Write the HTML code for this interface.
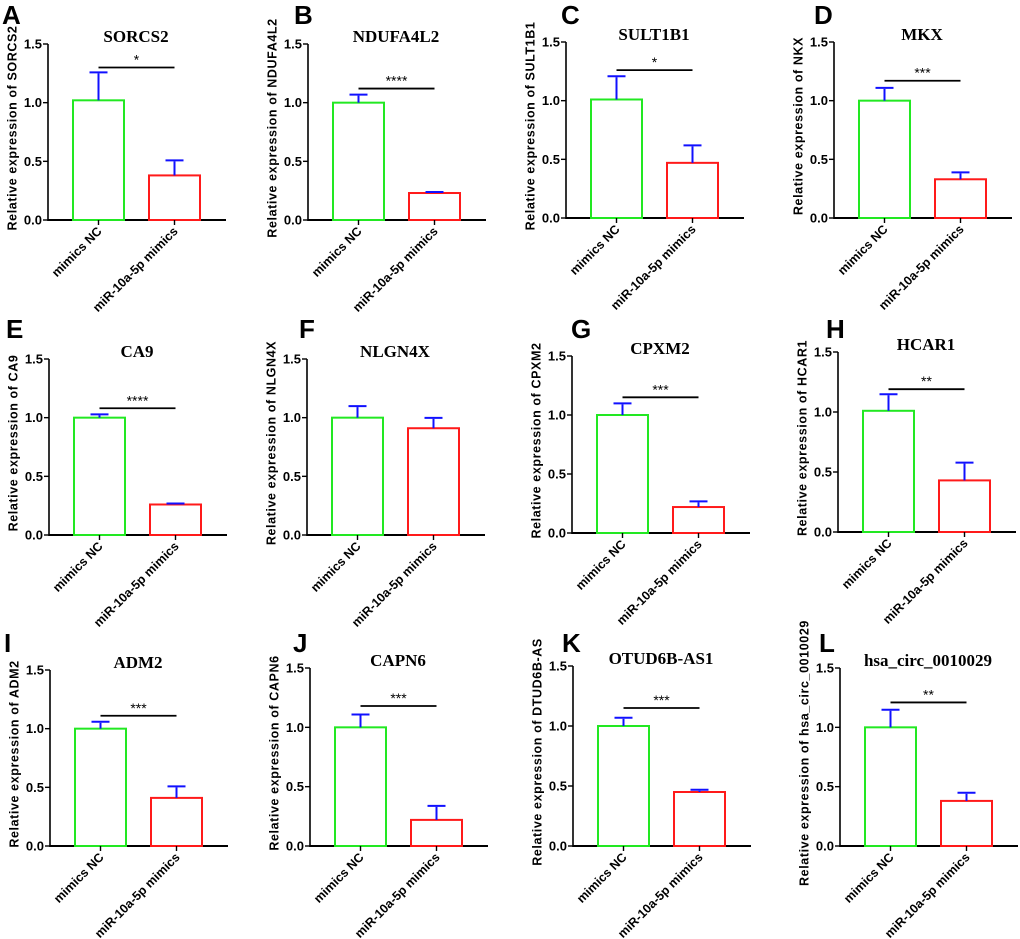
<!DOCTYPE html>
<html><head><meta charset="utf-8">
<style>
html,body{margin:0;padding:0;background:#fff;}
svg{display:block;}
.tk{font-family:"Liberation Sans",Arial,sans-serif;font-weight:bold;font-size:13px;fill:#000;}
.xk{font-family:"Liberation Sans",Arial,sans-serif;font-weight:bold;font-size:12.5px;fill:#000;}
.yt{font-family:"Liberation Sans",Arial,sans-serif;font-weight:bold;font-size:12.5px;letter-spacing:0.6px;fill:#000;}
.tt{font-family:"Liberation Serif","Times New Roman",serif;font-weight:bold;font-size:17px;fill:#000;}
.lt{font-family:"Liberation Sans",Arial,sans-serif;font-weight:bold;font-size:26px;fill:#000;}
.st{font-family:"Liberation Sans",Arial,sans-serif;font-size:14px;fill:#000;}
</style></head>
<body>
<svg id="fig" width="1020" height="939" viewBox="0 0 1020 939" xmlns="http://www.w3.org/2000/svg"></svg>
<script>
const letters = ["A","B","C","D","E","F","G","H","I","J","K","L"];
const titles = ["SORCS2","NDUFA4L2","SULT1B1","MKX","CA9","NLGN4X","CPXM2","HCAR1","ADM2","CAPN6","OTUD6B-AS1","hsa_circ_0010029"];
const yTitles = ["SORCS2","NDUFA4L2","SULT1B1","NKX","CA9","NLGN4X","CPXM2","HCAR1","ADM2","CAPN6","DTUD6B-AS","hsa_circ_0010029"];
const categories = ["mimics NC","miR-10a-5p mimics"];
const ncMeans = [1.02,1.0,1.01,1.0,1.0,1.0,1.0,1.01,1.0,1.0,1.0,1.0];
const ncErrTop = [1.25,1.06,1.2,1.1,1.02,1.09,1.09,1.14,1.05,1.1,1.06,1.14];
const miMeans = [0.38,0.23,0.47,0.33,0.26,0.91,0.22,0.43,0.41,0.22,0.45,0.38];
const miErrTop = [0.5,0.23,0.61,0.38,0.26,0.99,0.26,0.57,0.5,0.33,0.46,0.44];
const sigLevel = [1.3,1.12,1.26,1.17,1.08,null,1.15,1.19,1.11,1.18,1.15,1.21];
const sigText = ["*","****","*","***","****","","***","**","***","***","***","**"];
const yTicks = [0,0.5,1.0,1.5];
const yTickLabels = ["0.0","0.5","1.0","1.5"];

// layout (pixel geometry)
const axX = [48,308,566,834,49,307,572,838,50,310,573,840];
const axTop = [44,44,42,42,359,359,356,352,670,668,666,668];
const axBot = [220,220,218,218,535,535,533,532,846,846,846,846];
const letterX = [2,294,561,814,6,299,571,826,4,293,562,819];
const letterY = [24,24,24,24,338,338,338,338,652,652,652,652];

const NS="http://www.w3.org/2000/svg";
const svg=document.getElementById('fig');
function mk(tag,attrs,parent){const e=document.createElementNS(NS,tag);for(const k in attrs)e.setAttribute(k,attrs[k]);(parent||svg).appendChild(e);return e;}

for(let i=0;i<12;i++){
  const ax=axX[i], top=axTop[i], bot=axBot[i];
  const y=v=>bot-(v/1.5)*(bot-top);
  const g=mk('g',{});
  
  

  const L=mk('text',{x:letterX[i],y:letterY[i],class:'lt'},g); L.textContent=letters[i];
  
  

  const T=mk('text',{x:ax+88,y:top-2,class:'tt','text-anchor':'middle'},g); T.textContent=titles[i];
  
  

  const ym=(top+bot)/2-4;
  const YT=mk('text',{x:ax-35,y:ym,class:'yt','text-anchor':'middle',transform:`rotate(-90 ${ax-35} ${ym})`,'dominant-baseline':'middle'},g);
  YT.textContent='Relative expression of '+yTitles[i];
  
  

  const ya=mk('line',{x1:ax,y1:top,x2:ax,y2:bot+1,stroke:'#000','stroke-width':1.6},g);
  
  
  yTicks.forEach((t,k)=>{
    mk('line',{x1:ax-5,y1:y(t),x2:ax,y2:y(t),stroke:'#000','stroke-width':1.4},g);
    const tl=mk('text',{x:ax-6,y:y(t)+4.5,class:'tk','text-anchor':'end'},g); tl.textContent=yTickLabels[k];
    
    
  });
  const xa=mk('line',{x1:ax,y1:bot,x2:ax+178,y2:bot,stroke:'#000','stroke-width':2},g);
  
  

  const means=[ncMeans[i],miMeans[i]], errs=[ncErrTop[i],miErrTop[i]];
  const colors=['#22e822','#ff1a1a'];
  const centers=[];
  for(let b=0;b<2;b++){
    const x0=ax+25+b*76, w=51, cx=x0+w/2; centers.push(cx);
    const r=mk('rect',{x:x0,y:y(means[b]),width:w,height:bot-y(means[b]),fill:'none',stroke:colors[b],'stroke-width':2},g);
    
    
    const e1=mk('line',{x1:cx,y1:y(means[b]),x2:cx,y2:y(errs[b]),stroke:'#1010ff','stroke-width':2},g);
    
    
    const e2=mk('line',{x1:cx-9,y1:y(errs[b])-1,x2:cx+9,y2:y(errs[b])-1,stroke:'#1010ff','stroke-width':2},g);
    
    
    mk('line',{x1:cx,y1:bot,x2:cx,y2:bot+5,stroke:'#000','stroke-width':1.4},g);
    const xl=mk('text',{x:cx+4,y:bot+12,class:'xk','text-anchor':'end',transform:`rotate(-45 ${cx+4} ${bot+12})`},g);
    xl.textContent=categories[b];
    
    
  }
  if(sigLevel[i]!==null){
    const sl=mk('line',{x1:centers[0],y1:y(sigLevel[i]),x2:centers[1],y2:y(sigLevel[i]),stroke:'#000','stroke-width':1.8},g);
    
    
    const st=mk('text',{x:(centers[0]+centers[1])/2,y:y(sigLevel[i])-3,class:'st','text-anchor':'middle'},g);
    st.textContent=sigText[i];
    
    
  }
}
</script>
</body></html>
